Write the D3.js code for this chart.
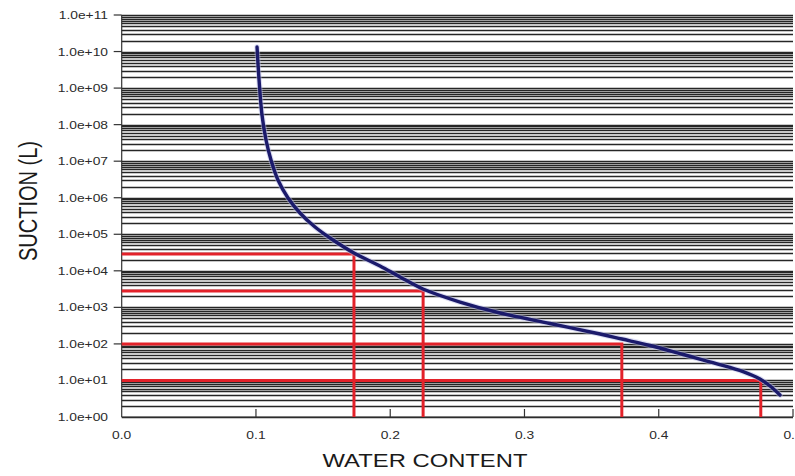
<!DOCTYPE html>
<html>
<head>
<meta charset="utf-8">
<script src="https://cdn.jsdelivr.net/npm/d3@7"></script>
<style>
  html, body { margin: 0; padding: 0; background: #fff; }
  svg { display: block; }
</style>
</head>
<body>
<svg id="chart" width="795" height="476"></svg>
<script>
// Soil-water characteristic curve: water content vs. suction (log scale)
const waterContent = [0.1008, 0.1023, 0.1045, 0.1075, 0.1112, 0.1164, 0.1239, 0.1328, 0.1440,
                      0.1574, 0.1730, 0.1924, 0.2073, 0.2244, 0.2520, 0.2818, 0.3190, 0.3563,
                      0.3726, 0.3935, 0.4181, 0.4434, 0.4628, 0.4754, 0.4829, 0.4903];
const suction = [1.33e10, 1.67e9, 1.84e8, 3.80e7, 1.08e7, 3.06e6, 9.84e5, 3.82e5, 1.58e5,
                 6.97e4, 3.07e4, 1.36e4, 6.78e3, 3.18e3, 1.40e3, 701, 362, 187,
                 136, 90.5, 51.3, 28.6, 17.5, 11.0, 7.05, 4.0];

// Read-off guides: each runs from the suction axis to the curve, then down to the water-content axis
const guideWater = [0.173, 0.2245, 0.3725, 0.476];
const guideSuction = [2.9e4, 2.8e3, 100, 10];

const xTicks = [0.0, 0.1, 0.2, 0.3, 0.4, 0.5];
const yTickExps = [0, 1, 2, 3, 4, 5, 6, 7, 8, 9, 10, 11];
const yTickLabels = ["1.0e+00", "1.0e+01", "1.0e+02", "1.0e+03", "1.0e+04", "1.0e+05",
                     "1.0e+06", "1.0e+07", "1.0e+08", "1.0e+09", "1.0e+10", "1.0e+11"];
const xTitle = "WATER CONTENT";
const yTitle = "SUCTION (L)";

const svg = d3.select("#chart");
const plotLeft = 121.7, plotRight = 793, plotTop = 15, plotBottom = 417;
const stretch = 1.28;

const x = d3.scaleLinear().domain([0, 0.5]).range([plotLeft, plotRight]);
const y = d3.scaleLog().domain([1, 1e11]).range([plotBottom, plotTop]);

// Minor log gridlines: 1..9 x 10^k for every decade
const gridVals = [];
for (let k = 0; k < 11; k++) {
  for (let m = 1; m <= 9; m++) gridVals.push(m * Math.pow(10, k));
}
gridVals.push(1e11);

svg.append("g")
  .selectAll("line")
  .data(gridVals)
  .join("line")
  .attr("x1", plotLeft)
  .attr("x2", plotRight)
  .attr("y1", d => Math.round(y(d)) + 0.5)
  .attr("y2", d => Math.round(y(d)) + 0.5)
  .attr("stroke", "#262626")
  .attr("stroke-width", 1.3);

// Axes
const axisColor = "#333";
svg.append("line")
  .attr("x1", plotLeft).attr("x2", plotLeft).attr("y1", plotTop).attr("y2", plotBottom)
  .attr("stroke", axisColor).attr("stroke-width", 1.2);
svg.append("line")
  .attr("x1", plotLeft).attr("x2", plotRight).attr("y1", plotBottom).attr("y2", plotBottom)
  .attr("stroke", axisColor).attr("stroke-width", 1.2);

// X ticks point inward
svg.append("g")
  .selectAll("line")
  .data(xTicks.slice(1))
  .join("line")
  .attr("x1", d => x(d)).attr("x2", d => x(d))
  .attr("y1", plotBottom).attr("y2", plotBottom - 8)
  .attr("stroke", axisColor).attr("stroke-width", 1.2);

svg.append("g")
  .selectAll("text")
  .data(xTicks)
  .join("text")
  .attr("transform", d => `translate(${x(d)},${plotBottom + 22}) scale(${stretch},1)`)
  .attr("text-anchor", "middle")
  .attr("font-family", "Liberation Sans, Arial, sans-serif")
  .attr("font-size", 10.8)
  .attr("fill", "#2a2a2a")
  .text(d => d.toFixed(1));

// Y ticks point outward, one per decade
svg.append("g")
  .selectAll("line")
  .data(yTickExps.filter(e => e >= 2))
  .join("line")
  .attr("x1", plotLeft - 8).attr("x2", plotLeft)
  .attr("y1", e => y(Math.pow(10, e))).attr("y2", e => y(Math.pow(10, e)))
  .attr("stroke", axisColor).attr("stroke-width", 1.2);

svg.append("g")
  .selectAll("text")
  .data(yTickExps)
  .join("text")
  .attr("transform", e => `translate(108,${y(Math.pow(10, e)) + 4}) scale(${stretch},1)`)
  .attr("text-anchor", "end")
  .attr("font-family", "Liberation Sans, Arial, sans-serif")
  .attr("font-size", 10.8)
  .attr("fill", "#2a2a2a")
  .text((e, i) => yTickLabels[i]);

// Axis titles
svg.append("text")
  .attr("transform", `translate(425,467) scale(${stretch},1)`)
  .attr("text-anchor", "middle")
  .attr("font-family", "Liberation Sans, Arial, sans-serif")
  .attr("font-size", 18.6)
  .attr("fill", "#1a1a1a")
  .text(xTitle);

svg.append("text")
  .attr("transform", `translate(37,201) scale(${stretch},1) rotate(-90)`)
  .attr("text-anchor", "middle")
  .attr("font-family", "Liberation Sans, Arial, sans-serif")
  .attr("font-size", 20)
  .attr("fill", "#1a1a1a")
  .text(yTitle);

// Red guides
const guides = guideWater.map((w, i) => ({ w, s: guideSuction[i] }));
const red = "#e3222a";
const gG = svg.append("g");
gG.selectAll("line.h")
  .data(guides)
  .join("line")
  .attr("class", "h")
  .attr("x1", plotLeft).attr("x2", d => x(d.w) + 1.5)
  .attr("y1", d => y(d.s)).attr("y2", d => y(d.s))
  .attr("stroke", red).attr("stroke-width", 3);
gG.selectAll("line.v")
  .data(guides)
  .join("line")
  .attr("class", "v")
  .attr("x1", d => x(d.w)).attr("x2", d => x(d.w))
  .attr("y1", d => y(d.s)).attr("y2", plotBottom)
  .attr("stroke", red).attr("stroke-width", 3);

// Curve
const pts = waterContent.map((w, i) => [x(w), y(suction[i])]);
const line = d3.line().curve(d3.curveCatmullRom.alpha(0.5));
svg.append("path")
  .attr("d", line(pts))
  .attr("fill", "none")
  .attr("stroke", "#b9bde8")
  .attr("stroke-width", 5.5)
  .attr("stroke-opacity", 0.5)
  .attr("stroke-linecap", "round");
svg.append("path")
  .attr("d", line(pts))
  .attr("fill", "none")
  .attr("stroke", "#1b1a6b")
  .attr("stroke-width", 3.4)
  .attr("stroke-linecap", "round")
  .attr("stroke-linejoin", "round");
</script>
</body>
</html>
